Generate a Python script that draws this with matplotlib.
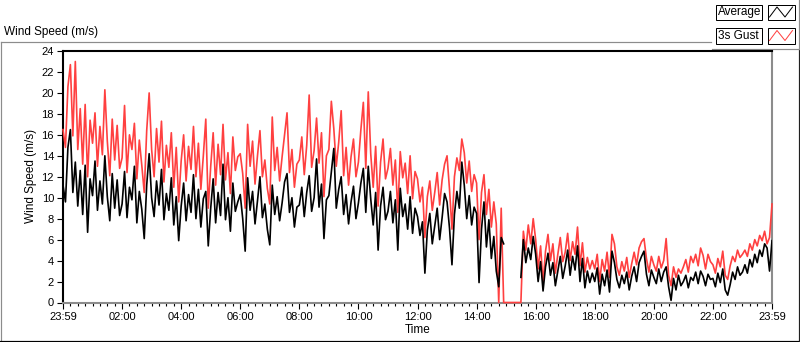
"""
wind_speed_day.py — 풍속 일변화 (평균 / 3s 돌풍), LabVIEW 차트 스타일 재현
"""
import numpy as np
import matplotlib
matplotlib.use("Agg")
import matplotlib.pyplot as plt
from matplotlib.patches import Rectangle

nan = float("nan")

# 5분 간격 샘플 (23:59 시작, 24시간) — 시간별 12개씩
avg_ms = [
    11.2, 9.6, 14.8, 16.5, 10.5, 13.4, 9.2, 12.6, 8.4, 13.1, 6.7, 11.8,    # 00
    10.2, 13.5, 8.8, 11.6, 9.4, 14.0, 10.1, 7.8, 12.3, 9.0, 11.7, 8.3,     # 01
    9.4, 12.5, 8.1, 11.0, 9.8, 13.0, 7.6, 10.6, 8.9, 6.1, 11.2, 14.2,      # 02
    10.0, 8.2, 11.6, 9.3, 12.7, 7.9, 10.4, 8.8, 11.9, 7.4, 10.1, 5.9,      # 03
    9.2, 11.4, 7.8, 10.3, 8.6, 12.2, 8.0, 10.8, 7.2, 9.9, 10.6, 5.4,       # 04
    9.0, 11.8, 7.6, 10.5, 8.3, 13.2, 7.9, 10.0, 6.8, 11.4, 8.7, 9.6,       # 05
    10.3, 8.0, 4.9, 11.9, 8.8, 10.6, 7.5, 9.7, 12.0, 8.1, 9.4, 7.0,        # 06
    5.5, 11.2, 8.4, 10.1, 7.8, 9.5, 11.5, 12.3, 8.6, 10.0, 7.2, 9.1,       # 07
    9.3, 11.0, 8.2, 10.5, 12.1, 8.7, 10.0, 13.7, 9.1, 11.3, 6.1, 9.8,      # 08
    10.2, 12.5, 14.7, 9.0, 10.8, 12.0, 8.4, 10.3, 7.5, 9.6, 11.1, 8.0,     # 09
    9.5, 11.4, 12.8, 8.6, 13.0, 9.9, 7.4, 10.5, 5.0, 9.2, 11.0, 7.9,       # 10
    8.7, 10.6, 7.6, 9.8, 5.0, 10.9, 8.2, 9.4, 7.0, 10.1, 6.6, 9.0,         # 11
    8.2, 6.4, 7.7, 2.8, 6.9, 8.5, 5.6, 7.3, 9.0, 6.0, 8.1, 10.4,           # 12
    9.6, 7.1, 3.6, 8.4, 10.6, 9.0, 13.4, 11.2, 8.0, 10.2, 7.4, 9.1,        # 13
    8.5, 1.9, 7.0, 9.6, 5.3, 7.9, 4.2, 6.3, 3.0, 1.5, 6.2, 5.6,            # 14
    nan, nan, nan, nan, nan, nan, 2.4, 6.0, 3.8, 5.2, 4.1, 6.3,            # 15
    4.6, 2.0, 3.9, 1.1, 3.4, 4.7, 2.6, 3.8, 1.6, 3.0, 4.4, 2.3,            # 16
    3.5, 5.0, 2.6, 4.4, 3.1, 5.4, 2.0, 4.2, 1.4, 3.0, 1.9, 2.8,            # 17
    2.0, 3.3, 0.8, 2.7, 1.6, 3.1, 1.0, 4.9, 3.8, 2.2, 1.4, 2.6,            # 18
    1.8, 2.9, 1.2, 2.5, 3.4, 2.0, 3.8, 4.4, 4.9, 2.7, 1.6, 3.1,            # 19
    2.4, 1.8, 3.2, 2.0, 2.9, 3.4, 1.5, 0.2, 2.3, 1.2, 2.6, 1.6,            # 20
    2.0, 2.6, 1.4, 2.4, 2.1, 2.9, 1.8, 3.0, 2.5, 1.6, 2.7, 2.2,            # 21
    2.3, 1.5, 2.8, 1.9, 3.2, 1.2, 0.7, 1.7, 2.9, 2.2, 3.4, 2.6,            # 22
    2.9, 3.6, 2.8, 4.1, 3.4, 4.6, 3.8, 5.0, 4.4, 5.6, 5.2, 3.0,            # 23
    5.9,
]
gust_ms = [
    16.5, 14.8, 20.6, 22.7, 15.9, 23.0, 14.6, 18.5, 13.2, 18.9, 12.0, 17.4,  # 00
    15.2, 18.1, 13.0, 16.8, 14.1, 20.3, 15.4, 12.1, 17.5, 13.6, 16.9, 12.8,  # 01
    13.8, 18.8, 12.4, 16.0, 14.6, 17.1, 11.8, 15.5, 13.1, 10.5, 16.4, 20.0,  # 02
    14.6, 12.0, 16.6, 13.4, 17.3, 11.5, 15.0, 12.9, 16.2, 11.0, 14.8, 9.6,   # 03
    13.5, 16.0, 11.6, 14.9, 12.7, 16.8, 12.0, 15.2, 10.8, 14.0, 17.5, 9.0,   # 04
    13.0, 16.2, 11.2, 15.1, 12.2, 17.0, 11.7, 14.3, 10.4, 15.8, 12.6, 13.9,  # 05
    14.2, 12.3, 9.0, 17.0, 13.0, 15.4, 11.3, 14.0, 16.4, 12.0, 13.6, 10.9,   # 06
    9.4, 17.7, 12.6, 14.8, 11.6, 13.9, 16.0, 18.1, 12.4, 14.6, 11.0, 13.2,   # 07
    13.6, 15.8, 12.2, 15.0, 19.8, 12.9, 14.5, 17.6, 13.3, 16.2, 10.1, 14.0,  # 08
    14.6, 19.2, 16.6, 13.0, 15.3, 18.3, 12.1, 14.8, 11.2, 13.9, 15.6, 12.0,  # 09
    13.4, 16.5, 19.1, 12.8, 20.1, 14.2, 11.0, 14.9, 9.2, 13.4, 15.6, 11.8,   # 10
    12.8, 14.7, 11.2, 13.6, 8.6, 14.4, 11.9, 13.3, 10.4, 14.0, 9.9, 12.5,    # 11
    11.8, 9.6, 11.0, 6.2, 10.1, 11.6, 8.8, 10.5, 12.4, 9.3, 11.7, 13.2,      # 12
    14.0, 10.8, 7.0, 12.0, 13.8, 12.6, 15.6, 14.3, 11.4, 13.5, 10.6, 12.2,   # 13
    11.4, 6.0, 10.5, 12.2, 8.4, 10.8, 7.2, 9.6, 7.5, 0.0, 9.0, 0.0,          # 14
    0.0, 0.0, 0.0, 0.0, 0.0, 0.0, 0.0, 6.8, 5.0, 7.4, 5.6, 8.0,              # 15
    6.0, 3.2, 5.4, 1.8, 4.9, 6.5, 4.0, 5.6, 2.8, 4.6, 6.2, 3.9,              # 16
    4.8, 6.6, 4.0, 5.8, 4.6, 7.2, 3.5, 5.7, 2.9, 4.3, 3.2, 4.0,              # 17
    3.2, 4.6, 2.0, 4.1, 3.0, 4.8, 2.4, 6.5, 5.6, 3.4, 2.6, 3.9,              # 18
    3.0, 4.3, 2.4, 3.7, 4.8, 3.6, 5.2, 5.8, 6.1, 4.2, 2.9, 4.4,              # 19
    3.6, 3.0, 4.4, 3.3, 4.0, 6.1, 2.6, 1.6, 3.4, 2.4, 3.2, 2.8,              # 20
    3.4, 4.1, 2.9, 4.4, 3.8, 4.6, 3.5, 5.2, 4.5, 3.2, 4.6, 3.9,              # 21
    3.6, 2.8, 4.2, 3.4, 4.9, 2.6, 2.2, 3.5, 4.4, 3.9, 5.0, 4.3,              # 22
    4.6, 5.0, 4.4, 5.6, 5.0, 6.0, 5.4, 6.4, 5.9, 6.8, 5.6, 6.2,              # 23
    9.4,
]
sample_min = 5  # 샘플 간격(분)
time_labels = ["23:59", "02:00", "04:00", "06:00", "08:00", "10:00", "12:00",
               "14:00", "16:00", "18:00", "20:00", "22:00", "23:59"]
y_ticks = list(range(0, 25, 2))

FONT = "Liberation Sans"
RED = "#ff4040"
GRAY = "#8c8c8c"


def run():
    plt.rcParams["font.family"] = [FONT, "DejaVu Sans"]
    W, H = 800, 342
    fig = plt.figure(figsize=(W / 100, H / 100), dpi=100)

    # 바깥 패널 / 범례 장식 (픽셀 좌표)
    deco = fig.add_axes([0, 0, 1, 1], zorder=0)
    deco.set_xlim(0, W); deco.set_ylim(H, 0); deco.axis("off")
    px = 0.72
    deco.plot([1, 711], [42, 42], color=GRAY, lw=1.2 * px)
    deco.plot([1, 1], [42, 341], color=GRAY, lw=1.2 * px)
    deco.plot([0, 799.5], [341, 341], color="black", lw=1.2 * px)
    deco.plot([799, 799], [49, 342], color="#202020", lw=1.2 * px)
    deco.plot([712, 799], [49, 49], color=GRAY, lw=1.2 * px)
    deco.plot([799, 799], [0, 49], color=GRAY, lw=1.2 * px)
    deco.text(4, 32, "Wind Speed (m/s)", fontsize=8.5, va="center", ha="left")
    for row, (name, col) in enumerate([("Average", "black"), ("3s Gust", RED)]):
        y0 = 4.5 + row * 23.5
        deco.add_patch(Rectangle((715.5, y0), 46.5, 15.5, fc="white", ec="black", lw=px))
        deco.text(717.5, y0 + 8, name, fontsize=8.5, va="center", ha="left")
        deco.add_patch(Rectangle((767.5, y0), 27, 15.5, fc="white", ec="black", lw=px))
        deco.plot([769.5, 777, 785, 792.5], [y0 + 12.5, y0 + 2.5, y0 + 12.5, y0 + 2.5],
                  color=col, lw=px)

    # 본 차트
    ax = fig.add_axes([63 / W, 1 - 302.5 / H, (772 - 63) / W, (302.5 - 51) / H], zorder=1)
    t_h = np.arange(len(avg_ms)) * sample_min / 60.0
    # 0 값(돌풍 결측 구간)이 아래 테두리 위에 보이도록 clip 해제
    ax.plot(t_h, gust_ms, color=RED, lw=1.2, zorder=3, clip_on=False)
    ax.plot(t_h, avg_ms, color="black", lw=1.2, zorder=3.1)
    ax.set_xlim(0, 24); ax.set_ylim(0, 24)
    ax.set_yticks(y_ticks)
    ax.set_xticks(np.arange(0, 25, 2))
    ax.set_xticklabels(time_labels)
    ax.set_xticks(np.arange(0, 24.01, 0.25), minor=True)
    ax.tick_params(axis="both", which="major", direction="out", length=4, width=0.8,
                   labelsize=8, pad=2.5, colors="black")
    ax.tick_params(axis="x", which="minor", direction="out", length=2.5, width=0.8)
    ax.tick_params(axis="x", which="major", pad=3)
    for s in ("top", "left"):
        ax.spines[s].set_color("black"); ax.spines[s].set_linewidth(1.5)
    for s in ("right", "bottom"):
        ax.spines[s].set_color(GRAY); ax.spines[s].set_linewidth(1.5)
    ax.set_xlabel("Time", fontsize=8.5, labelpad=1)
    fig.text(31 / W, 1 - 176 / H, "Wind Speed (m/s)", rotation=90, fontsize=8.5,
             ha="center", va="center")

    fig.savefig("out.png", dpi=100)
    plt.close(fig)


if __name__ == "__main__":
    run()
